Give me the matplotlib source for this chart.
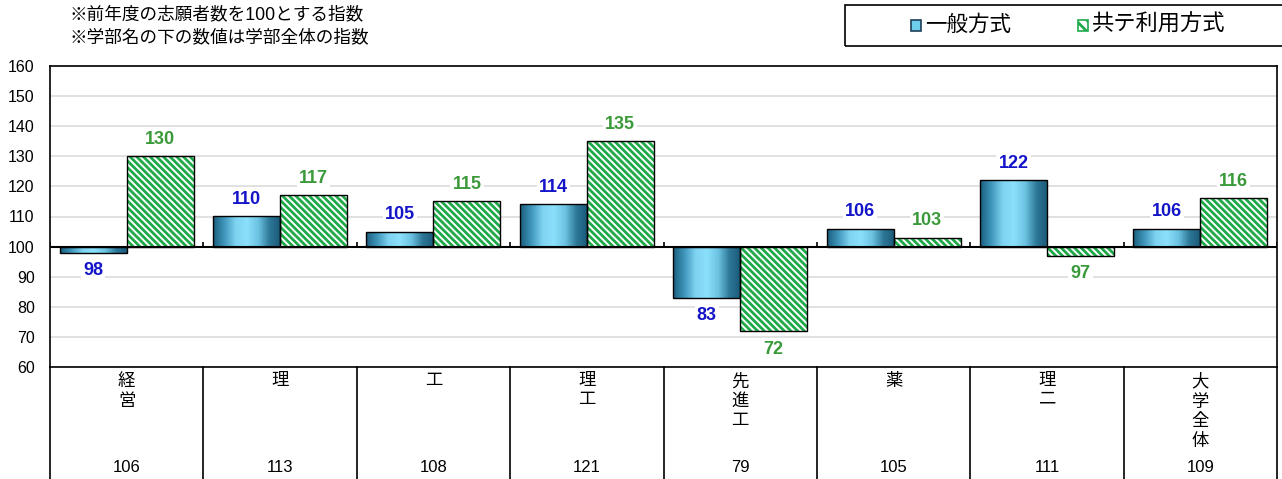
import matplotlib.pyplot as plt
import numpy as np
from matplotlib.colors import LinearSegmentedColormap
from matplotlib.patches import Rectangle
import matplotlib.transforms as mtransforms

plt.rcParams['font.family'] = ['Liberation Sans', 'Noto Sans CJK JP']
plt.rcParams['hatch.linewidth'] = 2.0

# data
categories = ['経\n営', '理', '工', '理\n工', '先\n進\n工', '薬', '理\n二', '大\n学\n全\n体']
general = [98, 110, 105, 114, 83, 106, 122, 106]
kyotsu = [130, 117, 115, 135, 72, 103, 97, 116]
totals = [106, 113, 108, 121, 79, 105, 111, 109]
legend_labels = ['一般方式', '共テ利用方式']
notes = ['※前年度の志願者数を100とする指数', '※学部名の下の数値は学部全体の指数']

W, H = 1282, 479
fig = plt.figure(figsize=(W / 100, H / 100), dpi=100)
ax = fig.add_axes([50 / W, 1 - 367 / H, 1227 / W, 301 / H])

base = 100
x = np.arange(len(categories))
bw = 0.437

blue_cmap = LinearSegmentedColormap.from_list(
    'bluebar', ['#1b5d7d', '#3f96bb', '#7fd3f2', '#8be0fb', '#6cc3e2', '#2d7797', '#1a5877'])
green = '#1faa4a'

ax.set_xlim(-0.5, len(categories) - 0.5)
ax.set_ylim(60, 160)
ax.set_yticks(np.arange(60, 161, 10))
ax.grid(axis='y', color='#dcdcdc', linewidth=1.2, zorder=0)
ax.set_axisbelow(True)
ax.set_xticks([])
ax.tick_params(axis='y', length=0, labelsize=11.5, pad=11)
for s in ax.spines.values():
    s.set_linewidth(1.2)
    s.set_color('black')

grad = np.linspace(0, 1, 256).reshape(1, -1)

# general bars with gradient
gbars = ax.bar(x - bw / 2, np.array(general) - base, bw, bottom=base,
               facecolor='none', edgecolor='black', linewidth=1, zorder=3)
for b in gbars:
    x0, y0 = b.get_x(), b.get_y()
    w, h = b.get_width(), b.get_height()
    im = ax.imshow(grad, cmap=blue_cmap, aspect='auto',
                   extent=[x0, x0 + w, y0, y0 + h], zorder=2)
    im.set_clip_path(b)

# kyotsu bars with hatch
ax.bar(x + bw / 2, np.array(kyotsu) - base, bw, bottom=base,
       facecolor='white', edgecolor=green, hatch='\\' * 5, linewidth=0, zorder=2)
ax.bar(x + bw / 2, np.array(kyotsu) - base, bw, bottom=base,
       facecolor='none', edgecolor='black', linewidth=1, zorder=3)

ax.axhline(base, color='black', linewidth=1.5, zorder=4)
ax.vlines(np.arange(len(categories) + 1) - 0.5, base, base + 1.6,
          color='black', linewidth=1.2, zorder=4)

bbox = dict(facecolor='white', edgecolor='none', pad=1.5)
for vals, off, col in [(general, -bw / 2, '#1414c8'), (kyotsu, bw / 2, '#3a9a3a')]:
    for i, v in enumerate(vals):
        if v >= base:
            ax.annotate(str(v), (i + off, v), xytext=(0, 6), textcoords='offset points',
                        ha='center', va='bottom', fontsize=13, fontweight='bold',
                        color=col, bbox=bbox, zorder=5)
        else:
            ax.annotate(str(v), (i + off, v), xytext=(0, -7), textcoords='offset points',
                        ha='center', va='top', fontsize=13, fontweight='bold',
                        color=col, bbox=bbox, zorder=5)

# table under the axis
trans = mtransforms.blended_transform_factory(ax.transData, ax.transAxes)
bottom = -(H - 367) / 301 - 0.05
for b in np.arange(len(categories) + 1) - 0.5:
    ax.plot([b, b], [0, bottom], color='black', linewidth=1.2,
            transform=trans, clip_on=False)
for i, (c, t) in enumerate(zip(categories, totals)):
    ax.text(i, -0.02, c, transform=trans, ha='center', va='top',
            fontsize=12.5, linespacing=1.3)
    ax.text(i, -(467 - 367) / 301, str(t), transform=trans, ha='center',
            va='center', fontsize=12)

# notes
fig.text(70 / W, 1 - 15 / H, notes[0], fontsize=12.7, va='center')
fig.text(70 / W, 1 - 38 / H, notes[1], fontsize=12.7, va='center')

# legend box
fig.patches.append(Rectangle((845 / W, 1 - 46 / H), 500 / W, 41 / H,
                             transform=fig.transFigure, fill=False,
                             edgecolor='black', linewidth=1.2))
fig.patches.append(Rectangle((911 / W, 1 - 31 / H), 10 / W, 11 / H,
                             transform=fig.transFigure, facecolor='#6fcdee',
                             edgecolor='#1d3f5a', linewidth=1.2))
fig.patches.append(Rectangle((1078 / W, 1 - 31 / H), 10 / W, 11 / H,
                             transform=fig.transFigure, facecolor='white',
                             edgecolor=green, hatch='\\\\\\', linewidth=1.2))
fig.text(925 / W, 1 - 25 / H, legend_labels[0], fontsize=15.5, va='center')
fig.text(1092 / W, 1 - 25 / H, legend_labels[1], fontsize=16, va='center')

fig.savefig('out.png', dpi=100)
